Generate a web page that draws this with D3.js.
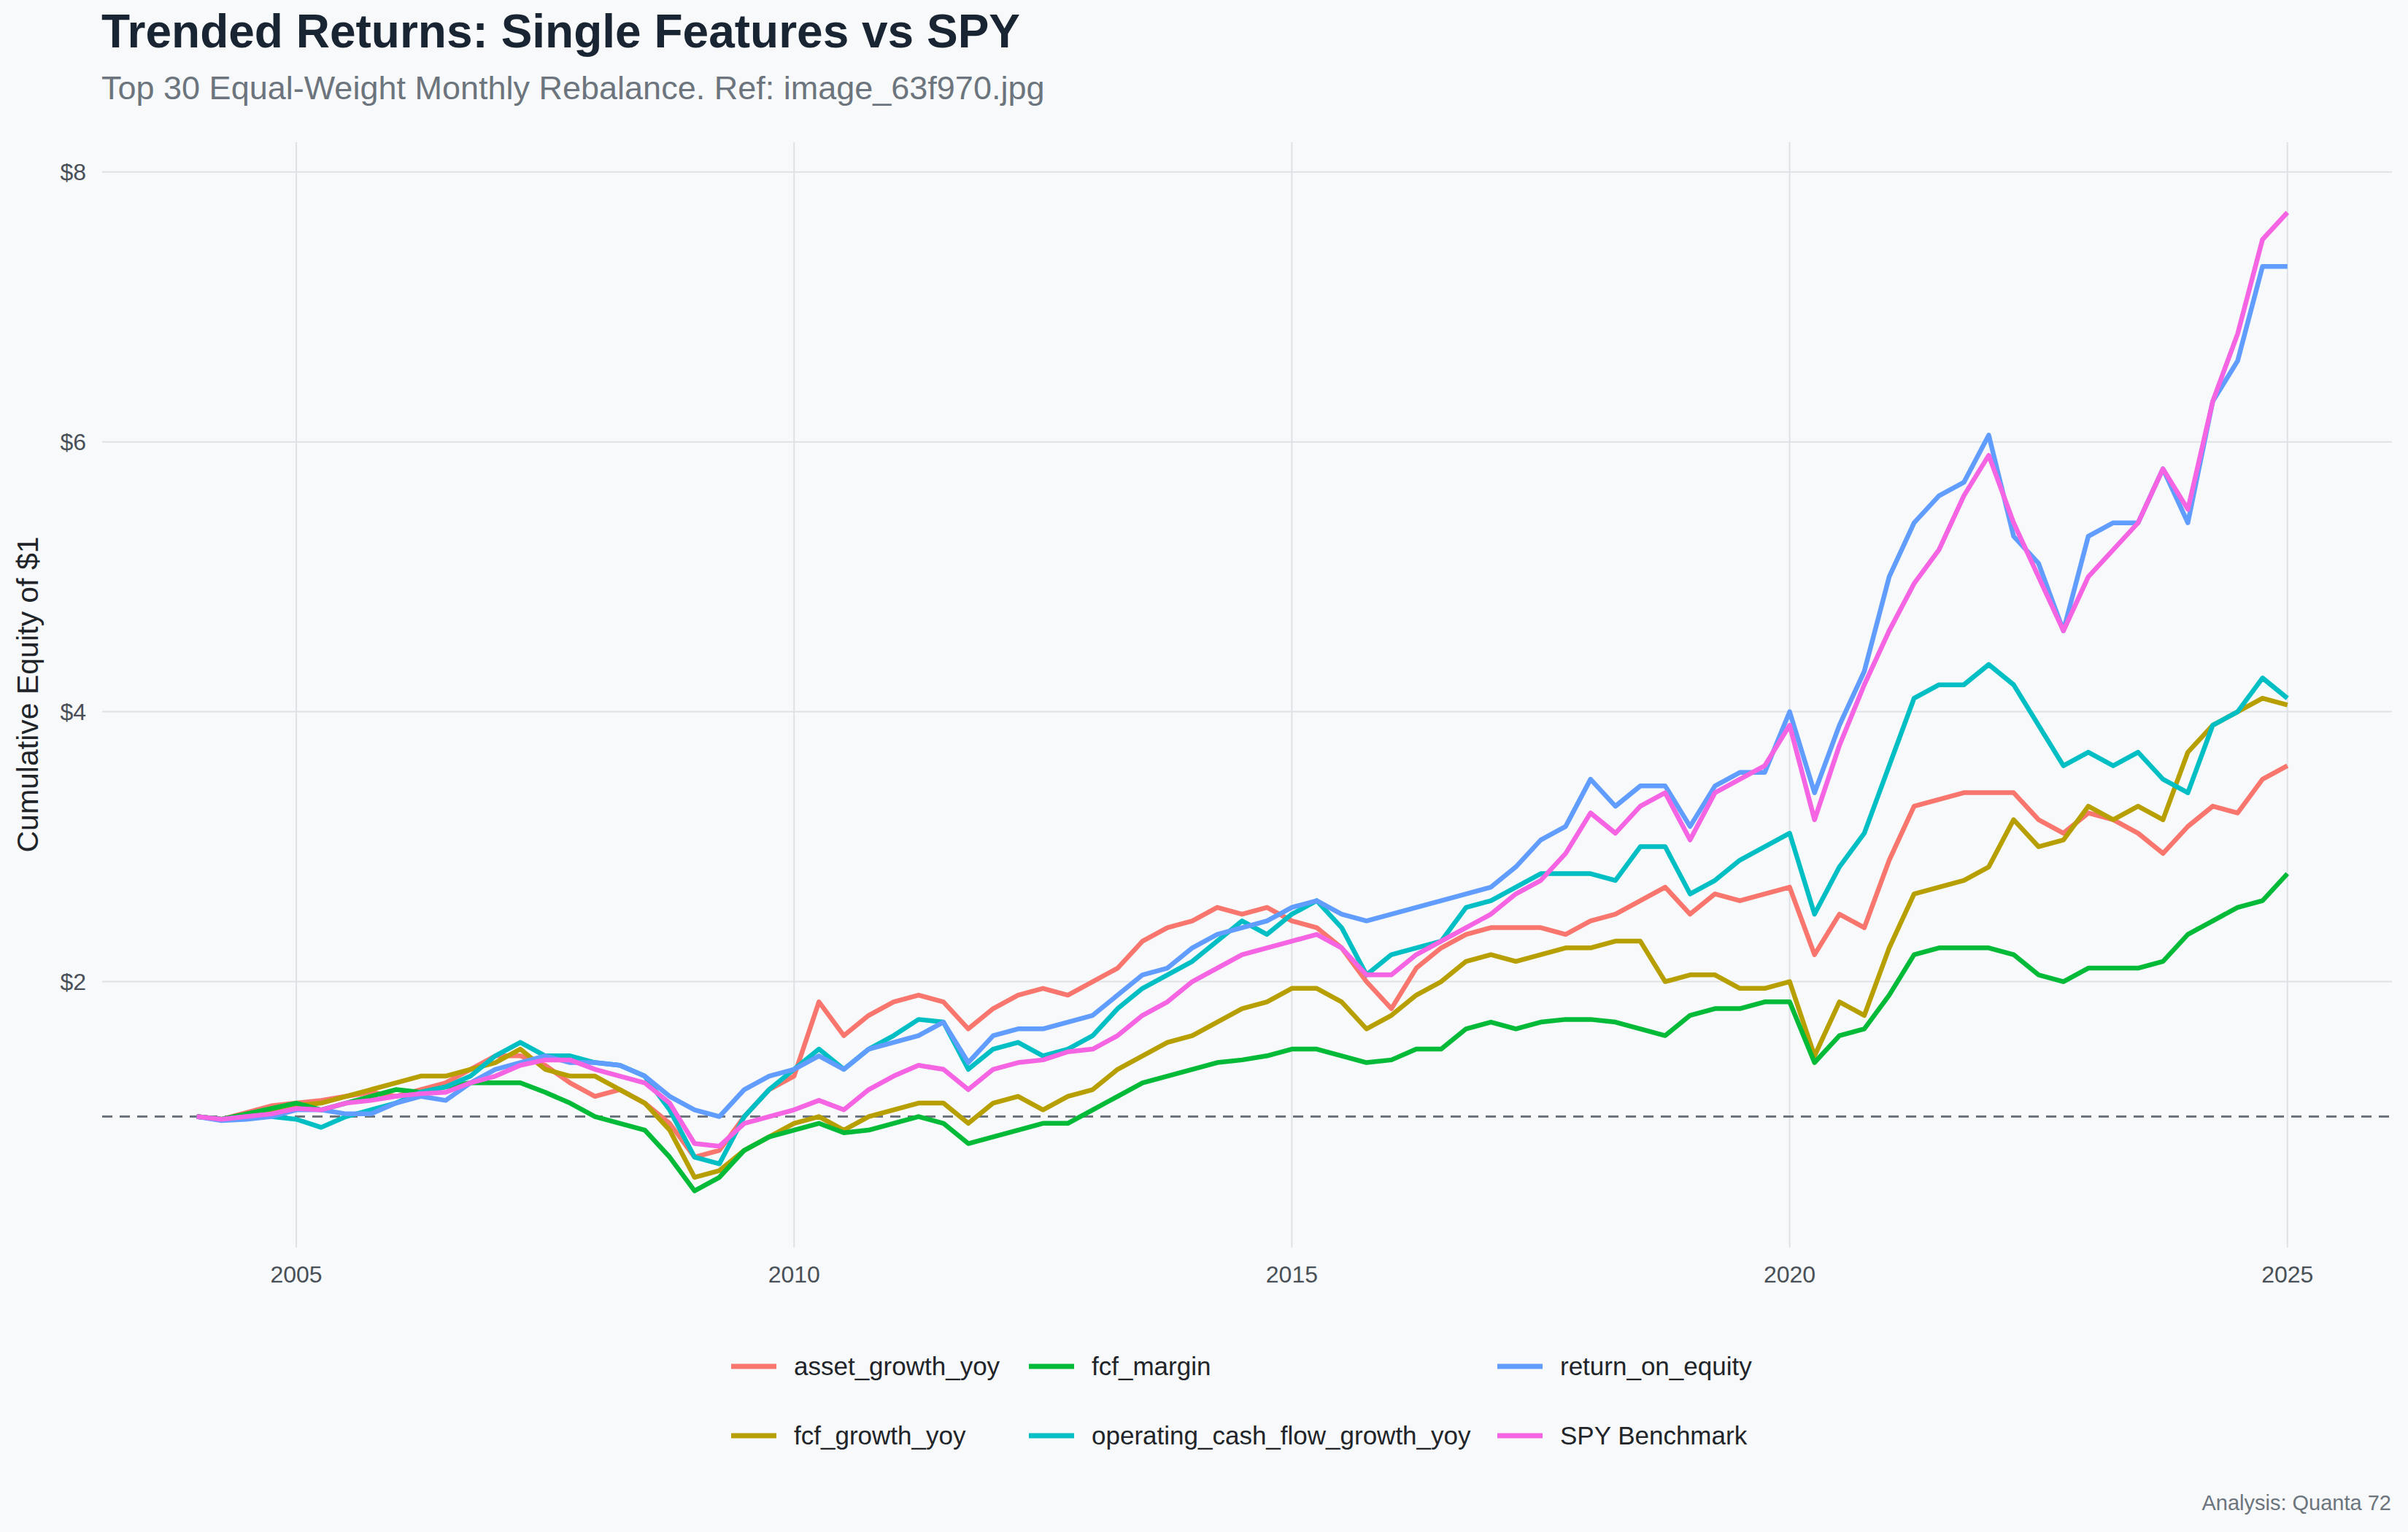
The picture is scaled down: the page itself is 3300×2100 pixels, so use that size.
<!DOCTYPE html>
<html><head><meta charset="utf-8">
<script src="https://cdn.jsdelivr.net/npm/d3@7"></script>
<style>body{margin:0;background:#f8f9fa}</style></head>
<body><svg id="c" width="3300" height="2100"></svg>
<script>
const seriesNames=["asset_growth_yoy","fcf_growth_yoy","fcf_margin","operating_cash_flow_growth_yoy","return_on_equity","SPY Benchmark"];
const colors=["#F8766D","#B79F00","#00BA38","#00BFC4","#619CFF","#F564E3"];
const startYear=2004, periodsPerYear=4;
const assetGrowth=[1.00,0.98,1.03,1.08, 1.10,1.12,1.15,1.18, 1.15,1.20,1.25,1.35, 1.45,1.45,1.38,1.25, 1.15,1.20,1.10,0.95, 0.70,0.75,1.00,1.20, 1.30,1.85,1.60,1.75, 1.85,1.90,1.85,1.65, 1.80,1.90,1.95,1.90, 2.00,2.10,2.30,2.40, 2.45,2.55,2.50,2.55, 2.45,2.40,2.25,2.00, 1.80,2.10,2.25,2.35, 2.40,2.40,2.40,2.35, 2.45,2.50,2.60,2.70, 2.50,2.65,2.60,2.65, 2.70,2.20,2.50,2.40, 2.90,3.30,3.35,3.40, 3.40,3.40,3.20,3.10, 3.25,3.20,3.10,2.95, 3.15,3.30,3.25,3.50, 3.60];
const fcfGrowth=[1.00,0.98,1.00,1.03, 1.08,1.10,1.15,1.20, 1.25,1.30,1.30,1.35, 1.40,1.50,1.35,1.30, 1.30,1.20,1.10,0.90, 0.55,0.60,0.75,0.85, 0.95,1.00,0.90,1.00, 1.05,1.10,1.10,0.95, 1.10,1.15,1.05,1.15, 1.20,1.35,1.45,1.55, 1.60,1.70,1.80,1.85, 1.95,1.95,1.85,1.65, 1.75,1.90,2.00,2.15, 2.20,2.15,2.20,2.25, 2.25,2.30,2.30,2.00, 2.05,2.05,1.95,1.95, 2.00,1.45,1.85,1.75, 2.25,2.65,2.70,2.75, 2.85,3.20,3.00,3.05, 3.30,3.20,3.30,3.20, 3.70,3.90,4.00,4.10, 4.05];
const fcfMargin=[1.00,0.98,1.02,1.06, 1.10,1.05,1.10,1.15, 1.20,1.18,1.22,1.25, 1.25,1.25,1.18,1.10, 1.00,0.95,0.90,0.70, 0.45,0.55,0.75,0.85, 0.90,0.95,0.88,0.90, 0.95,1.00,0.95,0.80, 0.85,0.90,0.95,0.95, 1.05,1.15,1.25,1.30, 1.35,1.40,1.42,1.45, 1.50,1.50,1.45,1.40, 1.42,1.50,1.50,1.65, 1.70,1.65,1.70,1.72, 1.72,1.70,1.65,1.60, 1.75,1.80,1.80,1.85, 1.85,1.40,1.60,1.65, 1.90,2.20,2.25,2.25, 2.25,2.20,2.05,2.00, 2.10,2.10,2.10,2.15, 2.35,2.45,2.55,2.60, 2.80];
const ocfGrowth=[1.00,0.98,1.00,1.00, 0.98,0.92,1.00,1.05, 1.10,1.18,1.22,1.30, 1.45,1.55,1.45,1.45, 1.40,1.38,1.30,1.05, 0.70,0.65,1.00,1.20, 1.35,1.50,1.35,1.50, 1.60,1.72,1.70,1.35, 1.50,1.55,1.45,1.50, 1.60,1.80,1.95,2.05, 2.15,2.30,2.45,2.35, 2.50,2.60,2.40,2.05, 2.20,2.25,2.30,2.55, 2.60,2.70,2.80,2.80, 2.80,2.75,3.00,3.00, 2.65,2.75,2.90,3.00, 3.10,2.50,2.85,3.10, 3.60,4.10,4.20,4.20, 4.35,4.20,3.90,3.60, 3.70,3.60,3.70,3.50, 3.40,3.90,4.00,4.25, 4.10];
const roe=[1.00,0.97,0.98,1.00, 1.05,1.05,1.02,1.02, 1.10,1.15,1.12,1.25, 1.35,1.40,1.45,1.40, 1.40,1.38,1.30,1.15, 1.05,1.00,1.20,1.30, 1.35,1.45,1.35,1.50, 1.55,1.60,1.70,1.40, 1.60,1.65,1.65,1.70, 1.75,1.90,2.05,2.10, 2.25,2.35,2.40,2.45, 2.55,2.60,2.50,2.45, 2.50,2.55,2.60,2.65, 2.70,2.85,3.05,3.15, 3.50,3.30,3.45,3.45, 3.15,3.45,3.55,3.55, 4.00,3.40,3.90,4.30, 5.00,5.40,5.60,5.70, 6.05,5.30,5.10,4.60, 5.30,5.40,5.40,5.80, 5.40,6.30,6.60,7.30, 7.30];
const spy=[1.00,0.98,1.00,1.02, 1.06,1.05,1.10,1.12, 1.15,1.17,1.18,1.25, 1.30,1.38,1.42,1.42, 1.35,1.30,1.25,1.10, 0.80,0.78,0.95,1.00, 1.05,1.12,1.05,1.20, 1.30,1.38,1.35,1.20, 1.35,1.40,1.42,1.48, 1.50,1.60,1.75,1.85, 2.00,2.10,2.20,2.25, 2.30,2.35,2.25,2.05, 2.05,2.20,2.30,2.40, 2.50,2.65,2.75,2.95, 3.25,3.10,3.30,3.40, 3.05,3.40,3.50,3.60, 3.90,3.20,3.75,4.20, 4.60,4.95,5.20,5.60, 5.90,5.40,5.00,4.60, 5.00,5.20,5.40,5.80, 5.50,6.30,6.80,7.50, 7.70];
const allValues=[assetGrowth,fcfGrowth,fcfMargin,ocfGrowth,roe,spy];
const yTicks=[2,4,6,8], xTicks=[2005,2010,2015,2020,2025];
const legendOrder=[[0,2,4],[1,3,5]];

const svg=d3.select("#c");
svg.append("rect").attr("width",3300).attr("height",2100).attr("fill","#f8f9fa");
const L=140,R=3278,T=195,B=1710;
const x=d3.scaleLinear().domain([2003.05,2026.05]).range([L,R]);
const y=d3.scaleLinear().domain([0.03,8.22]).range([B,T]);
const font="'Liberation Sans', Arial, sans-serif";
const g=svg.append("g");
g.selectAll(".gx").data(xTicks).join("line").attr("x1",d=>x(d)).attr("x2",d=>x(d)).attr("y1",T).attr("y2",B).attr("stroke","#dee2e6").attr("stroke-width",2);
g.selectAll(".gy").data(yTicks).join("line").attr("x1",L).attr("x2",R).attr("y1",d=>y(d)).attr("y2",d=>y(d)).attr("stroke","#dee2e6").attr("stroke-width",2);
g.append("line").attr("x1",L).attr("x2",R).attr("y1",y(1)).attr("y2",y(1)).attr("stroke","#6c757d").attr("stroke-width",3).attr("stroke-dasharray","14,10");
const line=d3.line().x((d,i)=>x(startYear+i/periodsPerYear)).y(d=>y(d));
allValues.forEach((vals,k)=>{
  g.append("path").attr("d",line(vals)).attr("fill","none").attr("stroke",colors[k]).attr("stroke-width",6.5).attr("stroke-linejoin","round");
});
g.selectAll(".yt").data(yTicks).join("text").attr("x",118).attr("y",d=>y(d)+11).attr("text-anchor","end").attr("font-family",font).attr("font-size",32).attr("fill","#495057").text(d=>"$"+d);
g.selectAll(".xt").data(xTicks).join("text").attr("x",d=>x(d)).attr("y",1758).attr("text-anchor","middle").attr("font-family",font).attr("font-size",32).attr("fill","#495057").text(d=>d);
svg.append("text").attr("transform","translate(52,952) rotate(-90)").attr("text-anchor","middle").attr("font-family",font).attr("font-size",41).attr("fill","#212529").text("Cumulative Equity of $1");
svg.append("text").attr("x",139).attr("y",65).attr("font-family",font).attr("font-weight","bold").attr("font-size",64).attr("fill","#1a2533").text("Trended Returns: Single Features vs SPY");
svg.append("text").attr("x",139).attr("y",136).attr("font-family",font).attr("font-size",45).attr("fill","#6c757d").text("Top 30 Equal-Weight Monthly Rebalance. Ref: image_63f970.jpg");
const colX=[1002,1410,2052], rowY=[1873,1968];
legendOrder.forEach((row,r)=>row.forEach((k,c)=>{
  svg.append("line").attr("x1",colX[c]).attr("x2",colX[c]+62).attr("y1",rowY[r]).attr("y2",rowY[r]).attr("stroke",colors[k]).attr("stroke-width",7);
  svg.append("text").attr("x",colX[c]+86).attr("y",rowY[r]+12).attr("font-family",font).attr("font-size",35).attr("fill","#212529").text(seriesNames[k]);
}));
svg.append("text").attr("x",3277).attr("y",2070).attr("text-anchor","end").attr("font-family",font).attr("font-size",29).attr("fill","#6c757d").text("Analysis: Quanta 72");
</script></body></html>
